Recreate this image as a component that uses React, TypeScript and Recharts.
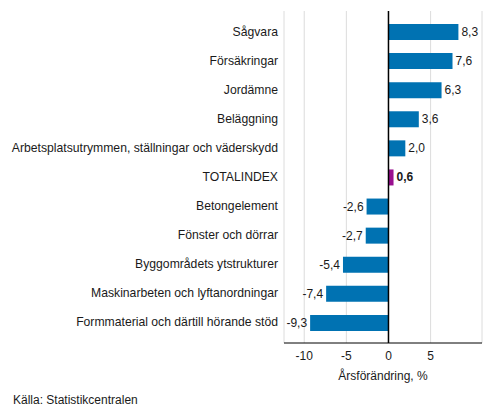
import { BarChart, Bar, XAxis, YAxis, CartesianGrid, ReferenceLine, Cell, LabelList } from 'recharts';

const categories = [
  'Sågvara',
  'Försäkringar',
  'Jordämne',
  'Beläggning',
  'Arbetsplatsutrymmen, ställningar och väderskydd',
  'TOTALINDEX',
  'Betongelement',
  'Fönster och dörrar',
  'Byggområdets ytstrukturer',
  'Maskinarbeten och lyftanordningar',
  'Formmaterial och därtill hörande stöd',
];
const changes = [8.3, 7.6, 6.3, 3.6, 2.0, 0.6, -2.6, -2.7, -5.4, -7.4, -9.3];
const xTicks = [-10, -5, 0, 5];

const TOTAL = 'TOTALINDEX';
const BLUE = '#0072b2';
const PURPLE = '#990f8f';
const FONT = '"Liberation Sans", Arial, sans-serif';

const data = categories.map((name, i) => ({ name, value: changes[i] }));

// value label outside the bar end, comma as decimal sign
const ValueLabel = (props: any) => {
  const { x, y, width, height, value, index } = props;
  const xs = Number(x);
  const w = Number(width);
  const end = value >= 0 ? Math.max(xs, xs + w) : Math.min(xs, xs + w);
  const isTotal = categories[index] === TOTAL;
  return (
    <text
      x={value >= 0 ? end + 3 : end - 3}
      y={Number(y) + Number(height) / 2}
      textAnchor={value >= 0 ? 'start' : 'end'}
      dominantBaseline="central"
      fontSize={12}
      fontFamily={FONT}
      fontWeight={isTotal ? 'bold' : 'normal'}
      fill="#1a1a1a"
    >
      {Number(value).toFixed(1).replace('.', ',')}
    </text>
  );
};

// single-line category label (no wrapping)
const CategoryTick = (props: any) => {
  const { x, y, payload } = props;
  return (
    <text
      x={Number(x) + 2}
      y={Number(y)}
      textAnchor="end"
      dominantBaseline="central"
      fontSize={12.2}
      fontFamily={FONT}
      fill="#1a1a1a"
    >
      {payload.value}
    </text>
  );
};

export default function App() {
  return (
    <div style={{ position: 'absolute', left: 0, top: 0, width: 493, height: 416, background: '#fff', fontFamily: FONT }}>
      <BarChart
        width={493}
        height={416}
        data={data}
        layout="vertical"
        margin={{ top: 11, right: 11, bottom: 49, left: 0 }}
        barSize={16}
      >
        <CartesianGrid horizontal={false} stroke="#dcdcdc" />
        <XAxis
          type="number"
          domain={[-12.4, 11.1]}
          ticks={xTicks}
          interval={0}
          tickLine={false}
          axisLine={{ stroke: '#000' }}
          tick={{ fontSize: 12, fill: '#1a1a1a', fontFamily: FONT }}
          tickFormatter={(v: number) => String(v)}
          height={24}
          label={{ value: 'Årsförändring, %', position: 'bottom', offset: 4, fontSize: 12, fill: '#1a1a1a', fontFamily: FONT }}
        />
        <YAxis
          type="category"
          dataKey="name"
          width={284}
          interval={0}
          tickLine={false}
          axisLine={false}
          padding={{ top: 6, bottom: 6 }}
          tick={CategoryTick}
        />
        <ReferenceLine x={0} stroke="#000" strokeWidth={1.5} />
        <Bar dataKey="value" isAnimationActive={false}>
          {data.map((d, i) => (
            <Cell key={`c-${i}`} fill={d.name === TOTAL ? PURPLE : BLUE} />
          ))}
          <LabelList dataKey="value" content={ValueLabel} />
        </Bar>
      </BarChart>
      <div style={{ position: 'absolute', left: 13, top: 393, fontSize: 12, color: '#1a1a1a' }}>
        Källa: Statistikcentralen
      </div>
    </div>
  );
}
